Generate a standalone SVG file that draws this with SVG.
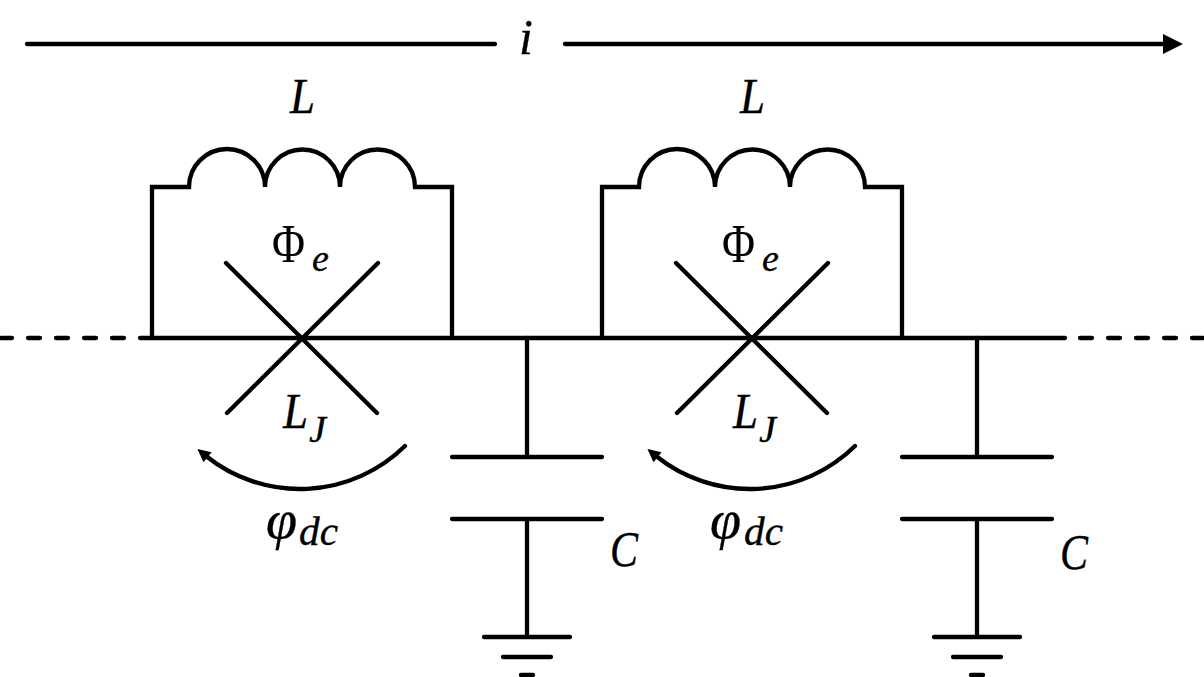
<svg xmlns="http://www.w3.org/2000/svg" width="1204" height="677" viewBox="0 0 1204 677">
<style>
.w{fill:none;stroke:#000;stroke-width:4.3;stroke-linecap:round;stroke-linejoin:miter}
.t{font-family:"Liberation Serif",serif;font-style:italic;fill:#000;stroke:#000;stroke-width:.35}
.u{font-family:"Liberation Serif",serif;fill:#000}
</style>
<defs>
<marker id="big" markerUnits="userSpaceOnUse" markerWidth="22" markerHeight="22" refX="1" refY="11" orient="auto"><path d="M1 1L21 11L1 21Z" fill="#000"/></marker>
<marker id="small" markerUnits="userSpaceOnUse" markerWidth="16" markerHeight="16" refX="3" refY="8" orient="auto"><path d="M1 1.500L14 8L1 14.500Z" fill="#000"/></marker>
<g id="squid">
<path class="w" d="M152 338V187H189A38 38 0 0 1 265 187A37.500 37.500 0 0 1 340 187A37.500 37.500 0 0 1 415 187H452V338"/>
<path class="w" d="M226 263L377 413M378 263L227 413"/>
<path class="w" d="M405 446A150 150 0 0 1 206 456" marker-end="url(#small)"/>
<text class="t" x="290" y="113" font-size="50" textLength="25" lengthAdjust="spacingAndGlyphs">L</text>
<text class="u" x="272" y="262" font-size="54" textLength="33" lengthAdjust="spacingAndGlyphs">Φ</text>
<text class="t" x="312" y="271" font-size="38">e</text>
<text class="t" x="283" y="428" font-size="50" textLength="25" lengthAdjust="spacingAndGlyphs">L</text>
<text class="t" x="309" y="442" font-size="38">J</text>
</g>
<g id="shunt">
<path class="w" d="M527 338V457M452 457H602M452 519H602M527 519V637M484 637H570M503 657H551M521 675H533"/>
</g>
</defs>
<g id="connectors">
<path class="w" d="M27 44H495"/>
<path class="w" d="M565 44H1163" marker-end="url(#big)"/>
<path class="w" d="M1 338H12M28 338H40M56 338H68M84 338H96M112 338H124M140 338H1065M1080 338H1092M1108 338H1120M1136 338H1148M1164 338H1176M1192 338H1203"/>
</g>
<g id="current"><text class="t" x="519" y="54" font-size="50">i</text></g>
<g id="squid-1"><use href="#squid"/>
<text class="t" x="266" y="538" font-size="54" textLength="31" lengthAdjust="spacingAndGlyphs">φ</text>
<text class="t" x="299" y="545" font-size="40" textLength="39" lengthAdjust="spacingAndGlyphs">dc</text>
</g>
<g id="shunt-1"><use href="#shunt"/>
<text class="t" x="610" y="566" font-size="50" textLength="28" lengthAdjust="spacingAndGlyphs">C</text>
</g>
<g id="squid-2"><use href="#squid" x="450"/>
<text class="t" x="710" y="538" font-size="54" textLength="31" lengthAdjust="spacingAndGlyphs">φ</text>
<text class="t" x="744" y="545" font-size="40" textLength="39" lengthAdjust="spacingAndGlyphs">dc</text>
</g>
<g id="shunt-2"><use href="#shunt" x="450"/>
<text class="t" x="1060" y="569" font-size="50" textLength="28" lengthAdjust="spacingAndGlyphs">C</text>
</g>
</svg>
